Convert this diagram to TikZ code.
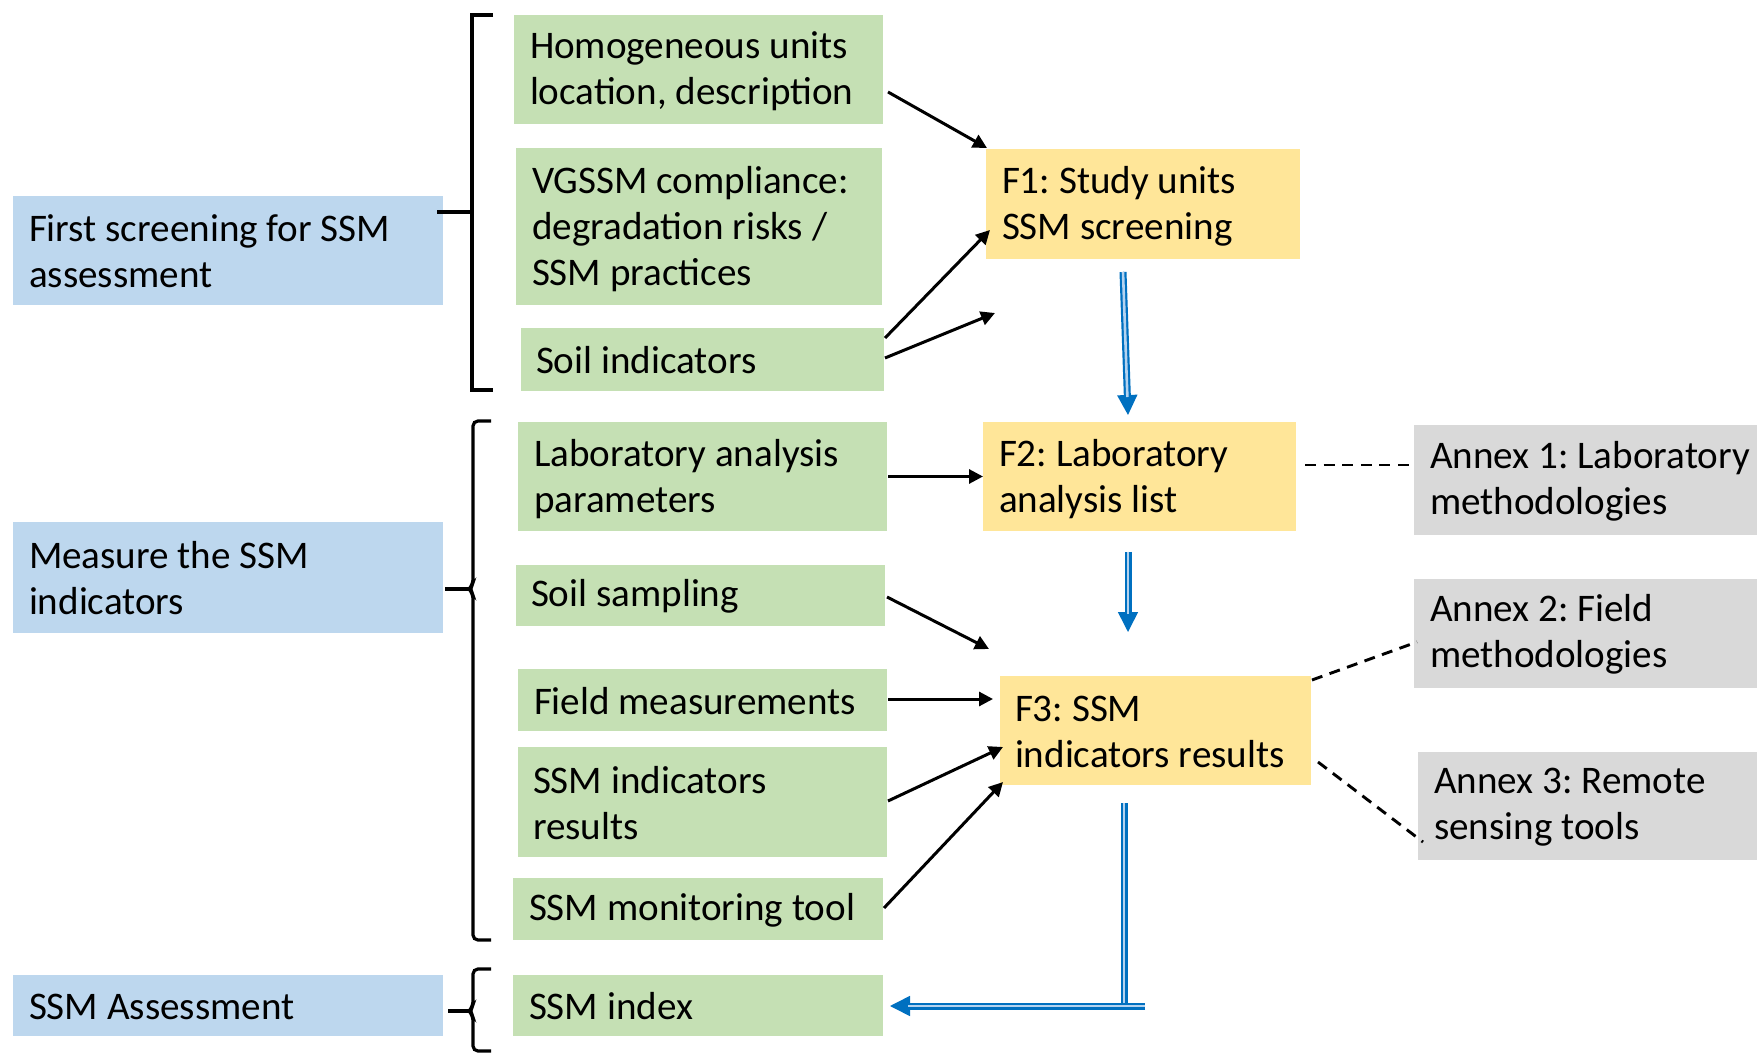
\documentclass[tikz,border=0pt]{standalone}
\usepackage{fontspec}
\setmainfont{Carlito}
\usetikzlibrary{arrows.meta,calc}
\definecolor{bbox}{HTML}{BDD7EE}
\definecolor{gbox}{HTML}{C5E0B4}
\definecolor{ybox}{HTML}{FFE699}
\definecolor{abox}{HTML}{D9D9D9}
\definecolor{arrblue}{HTML}{0070C0}
\definecolor{dblin}{HTML}{B4D3F0}
\frenchspacing
\begin{document}
\begin{tikzpicture}[x=0.5pt,y=-0.5pt,
  box/.style 2 args={inner sep=0pt, outer sep=0pt, draw=none, minimum width=#1*0.5pt, minimum height=#2*0.5pt},
  txt/.style={inner sep=0pt, outer sep=0pt, align=left, anchor=west, yshift=-0.5pt, font=\fontsize{19.55pt}{23pt}\selectfont\frenchspacing},
  arr/.style={line width=1.5pt, -{Triangle[length=7pt,width=7pt]}},
  dsh/.style={line width=1.45pt, dash pattern=on 5.5pt off 3.8pt},
  dbl/.style={draw=arrblue, line width=1.1pt, double=dblin, double distance=1.3pt},
  dbltip/.style={draw=arrblue, line width=0.8pt, -{Triangle[length=10pt,width=10pt]}},
  brk/.style={line width=1.6pt}
]
\fill[white] (0,0) rectangle (1757,1053);
\useasboundingbox (0,0) rectangle (1757,1053);

% blue boxes
\node[box={430}{109}, fill=bbox] (b1) at (228,250.5) {};
\node[box={430}{111}, fill=bbox] (b2) at (228,577.5) {};
\node[box={430}{61}, fill=bbox] (b3) at (228,1005.5) {};
% green boxes
\node[box={369}{109}, fill=gbox] (g1) at (698.5,69.5) {};
\node[box={366}{157}, fill=gbox] (g2) at (699,226.5) {};
\node[box={363}{63}, fill=gbox] (g3) at (702.5,359.5) {};
\node[box={369}{109}, fill=gbox] (g4) at (702.5,476.5) {};
\node[box={369}{61}, fill=gbox] (g5) at (700.5,595.5) {};
\node[box={369}{62}, fill=gbox] (g6) at (702.5,700) {};
\node[box={369}{110}, fill=gbox] (g7) at (702.5,802) {};
\node[box={370}{62}, fill=gbox] (g8) at (698,909) {};
\node[box={370}{61}, fill=gbox] (g9) at (698,1005.5) {};
% yellow boxes
\node[box={314}{110}, fill=ybox] (f1) at (1143,204) {};
\node[box={313}{109}, fill=ybox] (f2) at (1139.5,476.5) {};
\node[box={311}{109}, fill=ybox] (f3) at (1155.5,730.5) {};
% grey boxes
\node[box={343}{110}, fill=abox] (a1) at (1585.5,480) {};
\node[box={343}{109}, fill=abox] (a2) at (1585.5,633.5) {};
\node[box={339}{108}, fill=abox] (a3) at (1587.5,806) {};

% texts
\node[txt] (b1t) at ([xshift=8pt]b1.west) {First screening for SSM\\assessment};
\node[txt] (b2t) at ([xshift=8pt]b2.west) {Measure the SSM\\indicators};
\node[txt] (b3t) at ([xshift=8pt]b3.west) {SSM Assessment};
\node[txt] (g1t) at ([xshift=8pt,yshift=-0.6pt]g1.west) {Homogeneous units\\location, description};
\node[txt] (g2t) at ([xshift=8pt,yshift=-0.6pt]g2.west) {VGSSM compliance:\\degradation risks /\\SSM practices};
\node[txt] (g3t) at ([xshift=7.5pt]g3.west) {Soil indicators};
\node[txt] (g4t) at ([xshift=8pt,yshift=-0.6pt]g4.west) {Laboratory analysis\\parameters};
\node[txt] (g5t) at ([xshift=7.5pt]g5.west) {Soil sampling};
\node[txt] (g6t) at ([xshift=8pt]g6.west) {Field measurements};
\node[txt] (g7t) at ([xshift=7.5pt]g7.west) {SSM indicators\\results};
\node[txt] (g8t) at ([xshift=8pt]g8.west) {SSM monitoring tool};
\node[txt] (g9t) at ([xshift=8pt]g9.west) {SSM index};
\node[txt] (f1t) at ([xshift=8pt,yshift=-0.6pt]f1.west) {F1: Study units\\SSM screening};
\node[txt] (f2t) at ([xshift=8pt,yshift=-0.6pt]f2.west) {F2: Laboratory\\analysis list};
\node[txt] (f3t) at ([xshift=7.5pt]f3.west) {F3: SSM\\indicators results};
\node[txt] (a1t) at ([xshift=8pt]a1.west) {Annex 1: Laboratory\\methodologies};
\node[txt] (a2t) at ([xshift=8pt]a2.west) {Annex 2: Field\\methodologies};
\node[txt] (a3t) at ([xshift=8pt]a3.west) {Annex 3: Remote\\sensing tools};

% brackets
\draw[brk] (493,15) -- (472,15) -- (472,390) -- (493,390);
\draw[brk] (437,212) -- (472,212);
\draw[brk, rounded corners=2.5pt] (491,421) -- (473,421) -- (473,584) -- (469,589) -- (473,594) -- (473,940) -- (491,940);
\draw[brk] (445,589) -- (470,589);
\draw[brk, rounded corners=2.5pt] (491,969) -- (473,969) -- (473,1006) -- (469,1011) -- (473,1016) -- (473,1051) -- (491,1051);
\draw[brk] (448,1011) -- (470,1011);

% black arrows
\coordinate (c1) at ([shift={(111,-46.5)}]g3.east);
\coordinate (c2) at ([shift={(104,53.5)}]g5.east);
\draw[arr] ([shift={(5,22.5)}]g1.east) -- ([shift={(1,-1)}]f1.north west);
\draw[arr] ([shift={(1,-21.5)}]g3.east) -- ([shift={(4,26)}]f1.west);
\draw[arr] ([shift={(1,-1.5)}]g3.east) -- (c1);
\draw[arr] ([shift={(1,0)}]g4.east) -- (f2.west);
\draw[arr] ([shift={(2,1.5)}]g5.east) -- (c2);
\draw[arr] ([shift={(1,-1)}]g6.east) -- ([shift={(-7,-31.5)}]f3.west);
\draw[arr] ([shift={(1,-1)}]g7.east) -- ([shift={(3,16.5)}]f3.west);
\draw[arr] ([shift={(1,-1)}]g8.east) -- ([shift={(3,-3)}]f3.south west);

% dashed links
\draw[dsh] ([shift={(9,-11.5)}]f2.east) -- ([shift={(0,-15)}]a1.west);
\draw[dsh] ([shift={(1,4)}]f3.north east) -- ([shift={(3,8.5)}]a2.west);
\draw[dsh] ([shift={(7,31.5)}]f3.east) -- ([shift={(5,36)}]a3.west);

% blue double arrows
\coordinate (d1s) at ([shift={(-20,13)}]f1.south);
\coordinate (d1e) at ([shift={(-11.5,-7)}]f2.north);
\draw[dbltip] (d1s) -- (d1e);
\draw[dbl, shorten >=9pt] (d1s) -- (d1e);

\coordinate (d2s) at ([shift={(-11.5,21)}]f2.south);
\coordinate (d2e) at ([shift={(-27.5,-44)}]f3.north);
\draw[dbltip] (d2s) -- (d2e);
\draw[dbl, shorten >=9pt] (d2s) -- (d2e);

\coordinate (d3s) at ([shift={(-31.5,18)}]f3.south);
\coordinate (c3) at (d3s |- 0,1009);
\coordinate (c4) at (1145,1006);
\coordinate (d4e) at ([shift={(7,0.5)}]g9.east);
\draw[dbl] (d3s) -- (c3);
\draw[dbltip] (c4) -- (d4e);
\draw[dbl, shorten >=9pt] (c4) -- (d4e);
\end{tikzpicture}
\end{document}
